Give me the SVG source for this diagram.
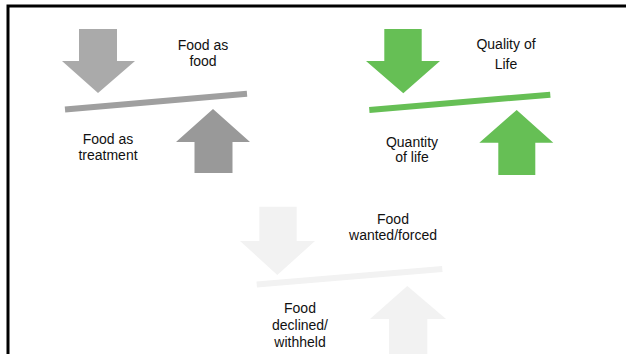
<svg xmlns="http://www.w3.org/2000/svg" width="626" height="354" viewBox="0 0 626 354">
<style>
  .t { font-family: "Liberation Sans", Arial, sans-serif; font-size: 14px; fill: #111111; text-anchor: middle; }
  .g1d { fill: #aaaaaa; } .g1u { fill: #999999; } .g1b { stroke: #9f9f9f; }
  .g2 { fill: #66bf55; } .g2b { stroke: #66bf55; }
  .g3 { fill: #f2f2f2; } .g3b { stroke: #f2f2f2; }
  .bar { stroke-width: 6; fill: none; }
</style>
<rect width="626" height="354" fill="#ffffff"/>
<path d="M8 354 V6 H626" fill="none" stroke="#000000" stroke-width="3"/>
<g id="food-as-food">
  <polygon class="g1d" points="79,29 117,29 117,61 135,61 98,93 62,61 79,61"/>
  <line class="bar g1b" x1="65" y1="109.5" x2="247" y2="93.7"/>
  <polygon class="g1u" points="213,109 250,142 232.5,142 232.5,173 194.5,173 194.5,142 176,142"/>
  <text class="t" x="203" y="50">Food as</text>
  <text class="t" x="203" y="66">food</text>
  <text class="t" x="108" y="144">Food as</text>
  <text class="t" x="108" y="160">treatment</text>
</g>
<g id="quality-of-life">
  <polygon class="g2" points="384.3,29 421.7,29 421.7,61 440,61 403.3,93.3 366,61 384.3,61"/>
  <line class="bar g2b" x1="369.3" y1="110" x2="550.3" y2="94.7"/>
  <polygon class="g2" points="516.7,110 553.3,142.7 535.3,142.7 535.3,175 498.3,175 498.3,142.7 479.3,142.7"/>
  <text class="t" x="506" y="49">Quality of</text>
  <text class="t" x="506" y="69">Life</text>
  <text class="t" x="412" y="146.5">Quantity</text>
  <text class="t" x="412" y="162">of life</text>
</g>
<g id="food-wanted">
  <polygon class="g3" points="259.3,206.7 296.7,206.7 296.7,241 315,241 277.3,275 240,241 259.3,241"/>
  <line class="bar g3b" x1="256.7" y1="284.5" x2="442.3" y2="269"/>
  <polygon class="g3" points="407.3,286 446,319 427.3,319 427.3,354 389,354 389,319 370,319"/>
  <text class="t" x="393" y="224">Food</text>
  <text class="t" x="393" y="240">wanted/forced</text>
  <text class="t" x="300" y="313">Food</text>
  <text class="t" x="300" y="330">declined/</text>
  <text class="t" x="300" y="346.5">withheld</text>
</g>
<g id="connectors"></g>
</svg>
